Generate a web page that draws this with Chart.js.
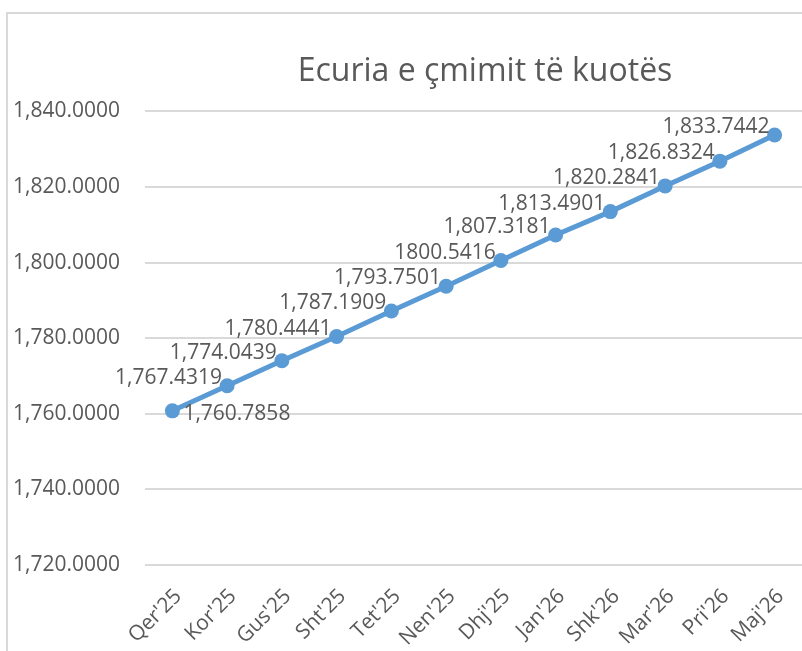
<!DOCTYPE html>
<html>
<head>
<meta charset="utf-8">
<script src="https://cdn.jsdelivr.net/npm/chart.js@4"></script>
<style>
  html, body { margin: 0; padding: 0; background: #fff; overflow: hidden; }
  #wrap { position: relative; width: 802px; height: 651px; overflow: hidden; }
  #frame { position: absolute; left: 6px; top: 12px; width: 1000px; height: 700px;
           border-left: 2px solid #d9d9d9; border-top: 2px solid #d9d9d9; }
  #cv { position: absolute; left: 0; top: 0; }
</style>
</head>
<body>
<div id="wrap">
  <div id="frame"></div>
  <canvas id="cv" width="970" height="651" style="width:970px;height:651px"></canvas>
</div>
<script>
const months = ["Qer'25", "Kor'25", "Gus'25", "Sht'25", "Tet'25", "Nen'25", "Dhj'25", "Jan'26", "Shk'26", "Mar'26", "Pri'26", "Maj'26"];
const prices = [1760.7858, 1767.4319, 1774.0439, 1780.4441, 1787.1909, 1793.7501, 1800.5416, 1807.3181, 1813.4901, 1820.2841, 1826.8324, 1833.7442];
const priceText = ['1,760.7858', '1,767.4319', '1,774.0439', '1,780.4441', '1,787.1909', '1,793.7501', '1800.5416', '1,807.3181', '1,813.4901', '1,820.2841', '1,826.8324', '1,833.7442'];
const yTicks = [1720, 1740, 1760, 1780, 1800, 1820, 1840];

const textColor = '#595959';
const fontName = 'Open Sans';

// labels next to the points, like the excel ones
const pointLabels = {
  id: 'pointLabels',
  afterDatasetsDraw(chart) {
    const ctx = chart.ctx;
    const meta = chart.getDatasetMeta(0);
    ctx.save();
    ctx.font = '21px "' + fontName + '"';
    ctx.fillStyle = textColor;
    ctx.textBaseline = 'middle';
    meta.data.forEach((pt, i) => {
      if (i === 0) {
        ctx.textAlign = 'left';
        ctx.fillText(priceText[i], pt.x + 11, pt.y + 3);
      } else {
        ctx.textAlign = 'right';
        ctx.fillText(priceText[i], pt.x - 5, pt.y - 8);
      }
    });
    ctx.restore();
  }
};

new Chart(document.getElementById('cv'), {
  type: 'line',
  data: {
    labels: months,
    datasets: [{
      data: prices,
      borderColor: '#5B9BD5',
      backgroundColor: '#5B9BD5',
      borderWidth: 5,
      pointRadius: 7.5,
      pointBorderWidth: 0,
      tension: 0
    }]
  },
  options: {
    responsive: false,
    animation: false,
    layout: { padding: 0 },
    plugins: {
      legend: { display: false },
      tooltip: { enabled: false },
      title: {
        display: true,
        text: 'Ecuria e çmimit të kuotës',
        color: textColor,
        font: { family: fontName, size: 32, weight: 'normal' },
        padding: { top: 53, bottom: 20 }
      }
    },
    scales: {
      x: {
        offset: true,
        afterFit(scale) { scale.height = 86; },
        grid: { display: false },
        border: { display: false },
        ticks: {
          color: textColor,
          font: { family: fontName, size: 21 },
          minRotation: 45,
          maxRotation: 45,
          padding: 11,
          labelOffset: 6
        }
      },
      y: {
        min: 1720,
        max: 1840,
        afterFit(scale) { scale.width = 145; },
        afterBuildTicks(scale) { scale.ticks = yTicks.map(v => ({ value: v })); },
        grid: { color: '#d9d9d9', lineWidth: 2, drawTicks: false },
        border: { display: false },
        ticks: {
          color: textColor,
          font: { family: fontName, size: 21 },
          padding: 25,
          callback: v => v.toLocaleString('en-US', { minimumFractionDigits: 4, maximumFractionDigits: 4 })
        }
      },
      // empty axis on the right, only holds the space that is cut off in the picture
      yRight: {
        position: 'right',
        afterFit(scale) { scale.width = 168; },
        grid: { display: false },
        border: { display: false },
        ticks: { display: false }
      }
    }
  },
  plugins: [pointLabels]
});
</script>
</body>
</html>
